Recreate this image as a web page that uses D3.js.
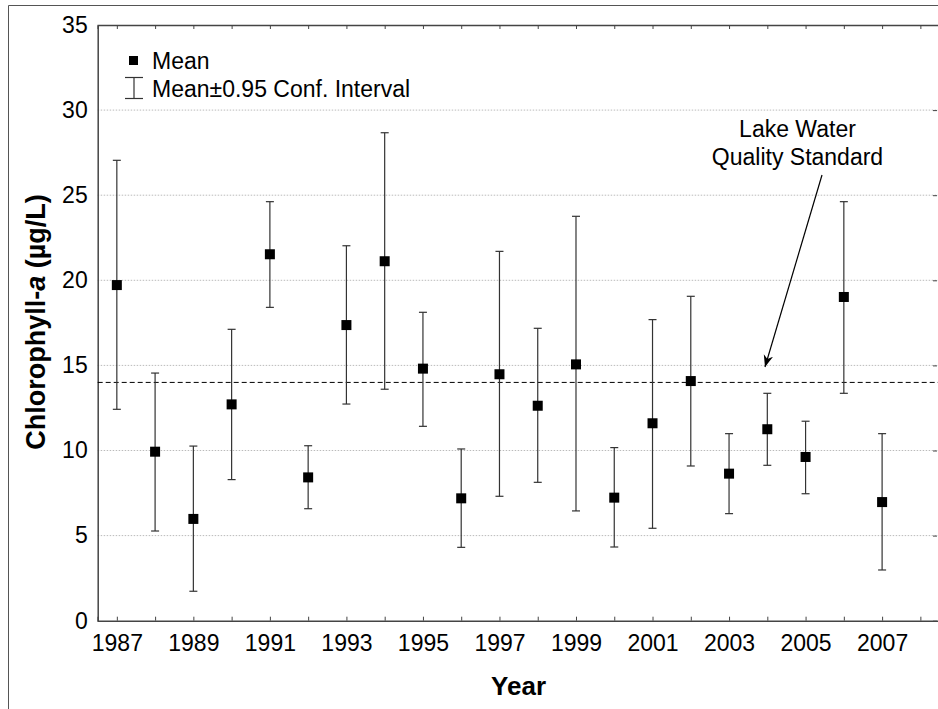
<!DOCTYPE html>
<html><head><meta charset="utf-8">
<script src="https://cdn.jsdelivr.net/npm/d3@7"></script>
<style>body{margin:0;background:#fff}svg{display:block}text{font-family:Arial,"Liberation Sans",sans-serif}</style>
</head><body><svg id="c" width="938" height="709"></svg>
<script>
const years = [1987,1988,1989,1990,1991,1992,1993,1994,1995,1996,1997,1998,1999,2000,2001,2002,2003,2004,2005,2006,2007];
const means = [19.72,9.93,5.98,12.71,21.53,8.42,17.37,21.12,14.81,7.19,14.48,12.63,15.06,7.23,11.6,14.08,8.64,11.25,9.62,19.02,6.97];
const upper = [27.05,14.55,10.26,17.12,24.62,10.28,22.03,28.67,18.12,10.09,21.7,17.18,23.76,10.17,17.69,19.06,10.99,13.36,11.72,24.62,10.99];
const lower = [12.42,5.27,1.73,8.29,18.41,6.58,12.73,13.6,11.42,4.31,7.31,8.13,6.45,4.33,5.43,9.09,6.29,9.13,7.46,13.36,2.98];
const yTicks = [0,5,10,15,20,25,30,35];
const xTickLabels = [1987,1989,1991,1993,1995,1997,1999,2001,2003,2005,2007];
const standard = 14;

const svg = d3.select("#c");
const L = 97.7, R = 939.5, T = 25, B = 620.7;
const x = d3.scaleLinear().domain([1986.5, 2008.5]).range([L, R]);
const y = d3.scaleLinear().domain([0, 35]).range([B, T]);

// outer frame
svg.append("path").attr("d", `M8.5,709 V5.5 H938`).attr("fill","none").attr("stroke","#555").attr("stroke-width",1);

// grid
svg.append("g").selectAll("line").data(yTicks.filter(d=>d>0&&d<35)).join("line")
  .attr("x1",L).attr("x2",R).attr("y1",d=>y(d)).attr("y2",d=>y(d))
  .attr("stroke","#bbb").attr("stroke-width",1).attr("stroke-dasharray","1.5,1.5");

// axes
const allYears = d3.range(1987, 2009);
const gB = svg.append("g").attr("transform",`translate(0,${B})`)
  .call(d3.axisBottom(x).tickValues(allYears).tickSize(-4).tickPadding(14).tickFormat(d=>xTickLabels.includes(d)?d:""));
const gT = svg.append("g").attr("transform",`translate(0,${T})`)
  .call(d3.axisTop(x).tickValues(allYears).tickSize(-4).tickFormat(""));
const gL = svg.append("g").attr("transform",`translate(${L},0)`)
  .call(d3.axisLeft(y).tickValues(yTicks).tickSize(0).tickPadding(10));
const gR = svg.append("g").attr("transform",`translate(${937},0)`)
  .call(d3.axisRight(y).tickValues(yTicks).tickSize(-4).tickFormat(""));
[gB,gT,gL,gR].forEach(g=>{
  g.select(".domain").attr("stroke","#444").attr("stroke-width",1.5);
  g.selectAll(".tick line").attr("stroke","#444");
  g.selectAll("text").attr("font-size",23).attr("fill","#000").attr("font-family","Arial, 'Liberation Sans', sans-serif");
});
gR.select(".domain").remove();
gB.selectAll("text").attr("dy","0.71em");

// standard line
svg.append("line").attr("x1",L).attr("x2",R).attr("y1",y(standard)).attr("y2",y(standard))
  .attr("stroke","#000").attr("stroke-width",1).attr("stroke-dasharray","5,3");

// error bars
const g = svg.append("g");
const data = years.map((yr,i)=>({yr, m:means[i], u:upper[i], l:lower[i]}));
g.selectAll(".v").data(data).join("line").attr("x1",d=>x(d.yr)).attr("x2",d=>x(d.yr))
  .attr("y1",d=>y(d.u)).attr("y2",d=>y(d.l)).attr("stroke","#333").attr("stroke-width",1.2);
["u","l"].forEach(k=>{
  g.selectAll(".c"+k).data(data).join("line").attr("x1",d=>x(d.yr)-4).attr("x2",d=>x(d.yr)+4)
    .attr("y1",d=>y(d[k])).attr("y2",d=>y(d[k])).attr("stroke","#333").attr("stroke-width",1.2);
});
g.selectAll("rect").data(data).join("rect").attr("x",d=>x(d.yr)-5).attr("y",d=>y(d.m)-5)
  .attr("width",10).attr("height",10).attr("fill","#000");

// legend
const lg = svg.append("g");
lg.append("rect").attr("x",129).attr("y",56).attr("width",9).attr("height",9).attr("fill","#000");
lg.append("text").attr("x",152).attr("y",68.5).attr("font-size",23).text("Mean");
lg.append("line").attr("x1",134).attr("x2",134).attr("y1",77.5).attr("y2",98.5).attr("stroke","#333").attr("stroke-width",1.2);
lg.append("line").attr("x1",125).attr("x2",143).attr("y1",77.5).attr("y2",77.5).attr("stroke","#333").attr("stroke-width",1.2);
lg.append("line").attr("x1",125).attr("x2",143).attr("y1",98.5).attr("y2",98.5).attr("stroke","#333").attr("stroke-width",1.2);
lg.append("text").attr("x",152).attr("y",96.5).attr("font-size",23).text("Mean±0.95 Conf. Interval");

// annotation
svg.append("text").attr("x",797.5).attr("y",136.5).attr("text-anchor","middle").attr("font-size",23).text("Lake Water");
svg.append("text").attr("x",797.5).attr("y",164.5).attr("text-anchor","middle").attr("font-size",23).text("Quality Standard");
svg.append("defs").append("marker").attr("id","ah").attr("viewBox","0 0 10 10").attr("refX",10).attr("refY",5)
  .attr("markerWidth",12).attr("markerHeight",12).attr("markerUnits","userSpaceOnUse").attr("orient","auto")
  .append("path").attr("d","M0,1 L10,5 L0,9 L3,5 Z").attr("fill","#000");
svg.append("line").attr("x1",822).attr("y1",175).attr("x2",765).attr("y2",367)
  .attr("stroke","#000").attr("stroke-width",1.2).attr("marker-end","url(#ah)");

// axis titles
svg.append("text").attr("x",518.6).attr("y",695).attr("text-anchor","middle").attr("font-size",26).attr("font-weight","bold").text("Year");
const yt = svg.append("text").attr("transform","translate(44.5,322) rotate(-90)").attr("text-anchor","middle")
  .attr("font-size",27).attr("font-weight","bold");
yt.append("tspan").text("Chlorophyll-");
yt.append("tspan").attr("font-style","italic").text("a");
yt.append("tspan").text(" (µg/L)");
</script></body></html>
